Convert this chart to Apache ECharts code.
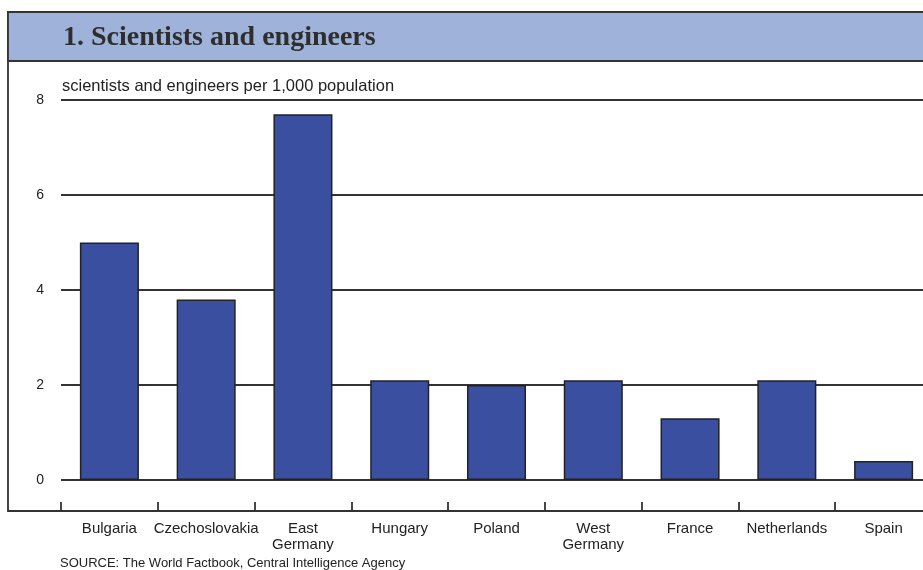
<!DOCTYPE html>
<html>
<head>
<meta charset="utf-8">
<script src="https://cdn.jsdelivr.net/npm/echarts@6/dist/echarts.min.js"></script>
<style>html,body{margin:0;padding:0;background:#fff}#c{width:923px;height:570px}</style>
</head>
<body>
<div id="c"></div>
<script>
const categories = ['Bulgaria', 'Czechoslovakia', 'East\nGermany', 'Hungary', 'Poland', 'West\nGermany', 'France', 'Netherlands', 'Spain'];
const values = [5.0, 3.8, 7.7, 2.1, 2.0, 2.1, 1.3, 2.1, 0.4];
const yTicks = [0, 2, 4, 6, 8];

const chart = echarts.init(document.getElementById('c'), null, {renderer: 'canvas'});
chart.setOption({
  animation: false,
  backgroundColor: '#fff',
  graphic: [
    {type: 'rect', shape: {x: 8, y: 12, width: 940, height: 499}, style: {fill: 'none', stroke: '#333', lineWidth: 1.8}, z: 0},
    {type: 'rect', shape: {x: 8, y: 12, width: 940, height: 49}, style: {fill: '#9fb3da', stroke: '#333', lineWidth: 1.8}, z: 1},
    {type: 'text', left: 63, top: 24, style: {text: '1. Scientists and engineers', font: 'bold 28px "Liberation Serif", serif', fill: '#2e2e2e'}, z: 2},
    {type: 'text', left: 60, top: 557, style: {text: 'SOURCE: The World Factbook, Central Intelligence Agency', font: '13px "Liberation Sans", Arial, sans-serif', fill: '#222'}, z: 2}
  ],
  title: {
    text: 'scientists and engineers per 1,000 population',
    left: 57, top: 73,
    textStyle: {fontFamily: '"Liberation Sans", Arial, sans-serif', fontSize: 16.5, fontWeight: 'normal', color: '#222'}
  },
  grid: {left: 61, width: 871, top: 100, bottom: 90, containLabel: false, outerBoundsMode: 'none'},
  xAxis: {
    type: 'category',
    data: categories,
    offset: 31,
    axisLine: {show: true, onZero: false, lineStyle: {color: '#333', width: 1.8}},
    axisTick: {show: true, inside: true, length: 9, lineStyle: {color: '#333', width: 1.8}},
    axisLabel: {interval: 0, margin: 10, fontFamily: '"Liberation Sans", Arial, sans-serif', fontSize: 15, color: '#222', lineHeight: 16}
  },
  yAxis: {
    type: 'value',
    min: 0, max: 8, interval: 2,
    axisLine: {show: false},
    axisTick: {show: false},
    axisLabel: {margin: 17, fontFamily: '"Liberation Sans", Arial, sans-serif', fontSize: 14, color: '#222',
      formatter: v => yTicks.includes(v) ? String(v) : ''},
    splitLine: {show: true, lineStyle: {color: '#333', width: 1.8}}
  },
  series: [{
    type: 'bar',
    data: values,
    barWidth: '61%',
    itemStyle: {color: '#3b4fa0', borderColor: '#222', borderWidth: 1.5},
    z: 3
  }]
});
</script>
</body>
</html>
